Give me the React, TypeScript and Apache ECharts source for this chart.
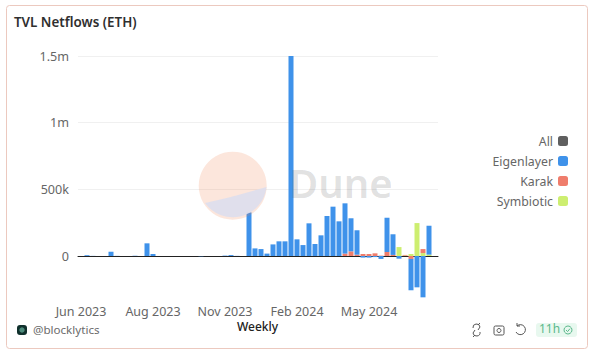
import React, { useEffect, useRef } from "react";
import * as echarts from "echarts";

const weeks = [
  "2023-06-05","2023-06-12","2023-06-19","2023-06-26","2023-07-03","2023-07-10","2023-07-17","2023-07-24","2023-07-31","2023-08-07",
  "2023-08-14","2023-08-21","2023-08-28","2023-09-04","2023-09-11","2023-09-18","2023-09-25","2023-10-02","2023-10-09","2023-10-16",
  "2023-10-23","2023-10-30","2023-11-06","2023-11-13","2023-11-20","2023-11-27","2023-12-04","2023-12-11","2023-12-18","2023-12-25",
  "2024-01-01","2024-01-08","2024-01-15","2024-01-22","2024-01-29","2024-02-05","2024-02-12","2024-02-19","2024-02-26","2024-03-04",
  "2024-03-11","2024-03-18","2024-03-25","2024-04-01","2024-04-08","2024-04-15","2024-04-22","2024-04-29","2024-05-06","2024-05-13",
  "2024-05-20","2024-05-27","2024-06-03","2024-06-10","2024-06-17","2024-06-24","2024-07-01","2024-07-08","2024-07-15","2024-07-22",
];
const monthNames = ["Jan","Feb","Mar","Apr","May","Jun","Jul","Aug","Sep","Oct","Nov","Dec"];

const eigenlayer = [
  0, 6000, 1000, 0, 0, 32000, 1000, 0, 0, 2000,
  0, 95000, 15000, 0, 0, 0, 0, 0, 0, 0,
  -2000, 0, 0, 0, 3000, 7000, 1000, 0, 327000, 57000,
  52000, 18000, 87000, 110000, 110000, 1500000, 125000, 82000, 245000, 90000,
  155000, 300000, 370000, 260000, 377000, 248000, 183000, -12000, -12000, -8000,
  -22000, 257000, 155000, -20000, 0, -235000, -235000, -310000, 217000, 0,
];
const karak = [
  0,0,0,0,0,0,0,0,0,0, 0,0,0,0,0,0,0,0,0,0,
  0,0,0,0,0,0,0,0,0,0, 0,0,0,0,0,0,0,0,0,0,
  0,0,0,0, 18000, 35000, 10000, 15000, 15000, 20000,
  3000, 30000, 8000, 0, 5000, -22000, 0, 30000, 0, 0,
];
const symbiotic = [
  0,0,0,0,0,0,0,0,0,0, 0,0,0,0,0,0,0,0,0,0,
  0,0,0,0,0,0,0,0,0,0, 0,0,0,0,0,0,0,0,0,0,
  0,0,0,0,0,0,0,0,0,0,
  0, 0, 0, 67000, 3000, 15000, 247000, 22000, 10000, 0,
];
const all: (number | null)[] = [];
const legendOrder = ["All", "Eigenlayer", "Karak", "Symbiotic"];
const FONT = '"Noto Sans", sans-serif';

echarts.graphic.registerShape(
  "duneLower",
  echarts.graphic.extendPath("M205 203 C224 199 245 193 266.5 187 A34 34 0 0 1 205 203 Z", {})
);
echarts.graphic.registerShape(
  "syncIcon",
  echarts.graphic.extendPath("M473 328 A3.5 3.5 0 0 1 480 327 L478 330 M478 325 L480 323 M480 332 A3.5 3.5 0 0 1 473 333 L475 330 M475 335 L473 337", {})
);
echarts.graphic.registerShape(
  "refreshIcon",
  echarts.graphic.extendPath("M517 326 A5 5 0 1 1 516 332 M517 323 L517 326 L520 326", {})
);

export default function App() {
  const ref = useRef<HTMLDivElement>(null);
  useEffect(() => {
    const chart = echarts.init(ref.current!, undefined, { renderer: "svg" });
    const barBase = { type: "bar" as const, stack: "flow", barWidth: 5 };
    chart.setOption({
      animation: false,
      backgroundColor: "#fff",
      textStyle: { fontFamily: FONT },
      grid: { left: 78, top: 56, width: 360, height: 266.67 },
      legend: {
        data: legendOrder,
        orient: "vertical",
        align: "right",
        right: 22,
        top: 130,
        icon: "roundRect",
        itemWidth: 10,
        itemHeight: 10,
        itemGap: 8,
        textStyle: { color: "#666", fontSize: 12.3, fontFamily: FONT },
      },
      xAxis: [
        {
          type: "category",
          data: weeks,
          axisLine: { onZero: true, lineStyle: { color: "#222", width: 1 } },
          axisTick: { show: false },
          axisLabel: { show: false },
        },
        {
          type: "category",
          data: weeks,
          position: "bottom",
          axisLine: { show: false, onZero: false },
          axisTick: { show: false },
          axisLabel: {
            interval: 11,
            margin: -18,
            color: "#666",
            fontSize: 12.5,
            fontFamily: FONT,
            formatter: (v: string) => `${monthNames[+v.slice(5, 7) - 1]} ${v.slice(0, 4)}`,
          },
        },
      ],
      yAxis: {
        type: "value",
        min: -500000,
        max: 1500000,
        interval: 500000,
        axisLine: { show: false },
        axisTick: { show: false },
        splitLine: { showMinLine: false, lineStyle: { color: "#f0f0f0", width: 1 } },
        axisLabel: {
          margin: 9,
          color: "#666",
          fontSize: 12.6,
          fontFamily: FONT,
          padding: [0, 0, 4, 0],
          formatter: (v: number) =>
            v < 0 ? "" : v === 0 ? "0" : v >= 1000000 ? `${v / 1000000}m` : `${v / 1000}k`,
        },
      },
      series: [
        { ...barBase, name: "All", data: all, itemStyle: { color: "#5f5f5f" } },
        { ...barBase, name: "Symbiotic", data: symbiotic, itemStyle: { color: "#cdee70" } },
        { ...barBase, name: "Karak", data: karak, itemStyle: { color: "#ef7d6c" } },
        { ...barBase, name: "Eigenlayer", data: eigenlayer, itemStyle: { color: "#3f92ea" } },
      ],
      graphic: [
        {
          type: "rect", z: 0, silent: true,
          shape: { x: 6.5, y: 5.5, width: 581, height: 343, r: 3 },
          style: { fill: "transparent", stroke: "#ecc9bf", lineWidth: 1 },
        },
        { type: "text", x: 14, y: 15, style: { text: "TVL Netflows (ETH)", font: `600 13.4px ${FONT}`, fill: "#2f2f2f" } },
        { type: "text", x: 257.5, y: 326.7, style: { text: "Weekly", font: `500 12px ${FONT}`, fill: "#222", textAlign: "center", textVerticalAlign: "middle" } },
        { type: "circle", z: 100, silent: true, shape: { cx: 232.7, cy: 185.7, r: 34 }, style: { fill: "rgba(240,130,80,0.2)" } },
        { type: "duneLower", z: 101, silent: true, style: { fill: "rgb(222,222,236)", opacity: 0.95 } },
        { type: "text", z: 100, silent: true, x: 289, y: 162, style: { text: "Dune", font: `600 40px ${FONT}`, fill: "rgba(70,70,70,0.17)" } },
        { type: "rect", shape: { x: 17, y: 325, width: 10, height: 10, r: 3 }, style: { fill: "#10302c" } },
        { type: "circle", shape: { cx: 22, cy: 330, r: 2.7 }, style: { fill: "#4d8c7c" } },
        { type: "text", x: 33, y: 323.5, style: { text: "@blocklytics", font: `11.6px ${FONT}`, fill: "#6b6b6b" } },
        { type: "syncIcon", style: { fill: "none", stroke: "#555", lineWidth: 1 } },
        { type: "rect", shape: { x: 494, y: 326, width: 10, height: 9, r: 1.5 }, style: { fill: "none", stroke: "#555", lineWidth: 1 } },
        { type: "circle", shape: { cx: 499, cy: 330.5, r: 2 }, style: { fill: "none", stroke: "#555", lineWidth: 1 } },
        { type: "refreshIcon", style: { fill: "none", stroke: "#555", lineWidth: 1 } },
        { type: "rect", shape: { x: 536, y: 323, width: 41, height: 14, r: 3 }, style: { fill: "#e8f8ef" } },
        { type: "text", x: 539, y: 322.5, style: { text: "11h", font: `12px ${FONT}`, fill: "#5cb88c" } },
        { type: "circle", shape: { cx: 568, cy: 330, r: 4 }, style: { fill: "none", stroke: "#5cb88c", lineWidth: 1 } },
        { type: "polyline", shape: { points: [[566, 330], [567.6, 331.6], [570, 328.6]] }, style: { fill: "none", stroke: "#5cb88c", lineWidth: 1 } },
      ],
    });
    return () => chart.dispose();
  }, []);
  return <div ref={ref} style={{ position: "fixed", left: 0, top: 0, width: 595, height: 355 }} />;
}
